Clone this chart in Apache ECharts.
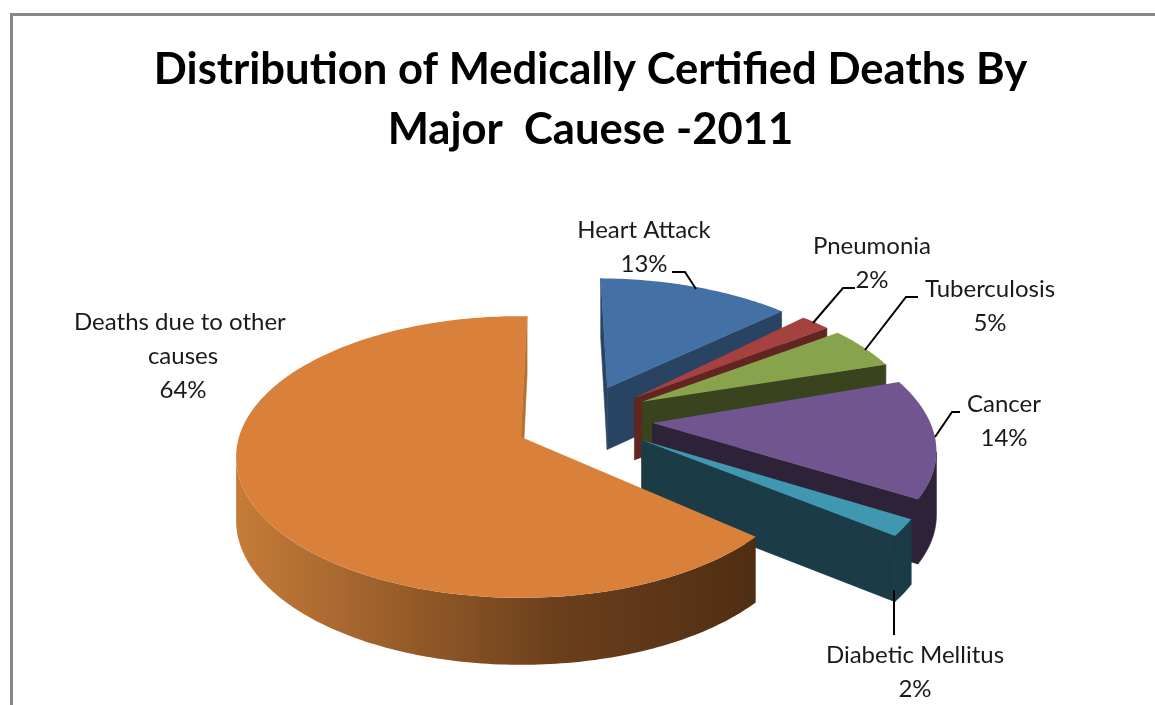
<!DOCTYPE html>
<html>
<head>
<meta charset="utf-8">
<style>html,body{margin:0;padding:0;background:#fff}#chart{width:1155px;height:705px}</style>
<script src="https://cdn.jsdelivr.net/npm/echarts@6/dist/echarts.min.js"></script>
</head>
<body>
<div id="chart"></div>
<script>
// Data
var categories = ['Heart Attack', 'Pneumonia', 'Tuberculosis', 'Cancer', 'Diabetic Mellitus', 'Deaths due to other causes'];
var percentValues = [13, 2, 5, 14, 2, 64];
var titleText = 'Distribution of Medically Certified Deaths By\nMajor  Cauese -2011';

// Styling
var topColors = ['#4471A5', '#A5423F', '#87A44D', '#705590', '#4097B0', '#D9813B'];
var wallColors = ['#294463', '#622522', '#39431D', '#2D2238', '#1B3B47', '#B4702F'];
var FONT = 'Lato, "Open Sans", sans-serif';

// Layout: projection of the tilted disc, explosion of each slice, label anchors
var cx = 521, cy = 437, rx = 282, ry = 138, persp = 0.142, rotateDeg = 1.4;
var explodeU = [0.322, 0.419, 0.445, 0.473, 0.426, 0];
var explodeV = [-0.374, -0.294, -0.265, -0.103, 0.022, 0];
var sliceTurn = [-0.5, -2, -1, -2, -2, 0];
var labelPos = [[644, 247], [872, 263], [990, 306], [1004, 421], [915, 672], [183, 356]];
var labelWidth = [200, 200, 200, 200, 240, 230];
var leaders = [
  [[672, 272], [685, 272], [696, 289]],
  [[855, 288], [843, 288], [813, 323]],
  [[918, 297], [906, 297], [865, 350]],
  [[960, 412], [952, 412], [935, 437]],
  [[894, 590], [894, 635]],
  null
];

function project(u, v) {
  var s = 1 / (1 - persp * v);
  return [cx + rx * u * s, cy + ry * v * s];
}
function depthAt(v) { return 63 + 4 * Math.max(-1, Math.min(1, v)); }

var total = percentValues.reduce(function (a, b) { return a + b; }, 0);

function renderSlice(params, api) {
  var i = params.dataIndex;
  var value = api.value(0);
  var before = 0;
  for (var j = 0; j < i; j++) before += percentValues[j];
  var a0 = before / total * 360 + rotateDeg + sliceTurn[i];
  var a1 = (before + value) / total * 360 + rotateDeg + sliceTurn[i];
  var eu = explodeU[i], ev = explodeV[i];

  // clockwise outline in disc coordinates: apex, arc, back to apex
  var disc = [[eu, ev]];
  var steps = Math.max(2, Math.ceil(a1 - a0));
  for (var k = 0; k <= steps; k++) {
    var t = (a0 + (a1 - a0) * k / steps) * Math.PI / 180;
    disc.push([eu + Math.sin(t), ev - Math.cos(t)]);
  }
  disc.push([eu, ev]);
  var top = disc.map(function (d) { return project(d[0], d[1]); });

  var children = [];
  var n = disc.length;
  // walls: runs of boundary moving right-to-left face the viewer
  var runs = [], cur = null;
  for (var s = 0; s < n - 1; s++) {
    var front = top[s + 1][0] < top[s][0];
    var isEnd = s === n - 2;
    if (front) {
      if (!cur) { cur = { from: s, radial: isEnd }; runs.push(cur); }
      cur.to = s + 1;
    } else { cur = null; }
    if (isEnd && front && cur && cur.from !== s) {
      // split the closing radial edge from the arc so each has its own fill
      cur.to = s;
      runs.push({ from: s, to: s + 1, radial: true });
    }
  }
  runs.sort(function (a, b) { return (b.radial ? 1 : 0) - (a.radial ? 1 : 0); });
  runs.forEach(function (r) {
    var pts = [];
    for (var q = r.from; q <= r.to; q++) pts.push(top[q]);
    for (var w = r.to; w >= r.from; w--) pts.push([top[w][0], top[w][1] + depthAt(disc[w][1])]);
    var fill = wallColors[i];
    var gradient = i === 5 && !r.radial;
    if (gradient) {
      fill = {
        type: 'linear', x: 235, y: 0, x2: 755, y2: 0, global: true,
        colorStops: [
          { offset: 0, color: '#C67C38' },
          { offset: 0.62, color: '#6B3F1C' },
          { offset: 1, color: '#502E13' }
        ]
      };
    }
    children.push({
      type: 'polygon', shape: { points: pts },
      style: { fill: fill, stroke: gradient ? null : fill, lineWidth: gradient ? 0 : 0.6 }
    });
  });

  children.push({ type: 'polygon', shape: { points: top.slice(0, n - 1) }, style: { fill: topColors[i], stroke: null } });

  if (leaders[i]) {
    children.push({
      type: 'polyline', shape: { points: leaders[i] },
      style: { fill: null, stroke: '#000', lineWidth: 2 }
    });
  }
  children.push({
    type: 'text', x: labelPos[i][0], y: labelPos[i][1],
    style: {
      text: categories[i] + '\n' + value + '%',
      width: labelWidth[i], overflow: 'break',
      fill: '#1a1a1a', font: '400 24px ' + FONT, fontFamily: FONT, fontSize: 24,
      lineHeight: 34, align: 'center', verticalAlign: 'middle'
    }
  });
  return { type: 'group', children: children };
}

var chart = echarts.init(document.getElementById('chart'), null, { renderer: 'canvas' });
chart.setOption({
  animation: false,
  backgroundColor: '#ffffff',
  title: {
    text: titleText,
    left: 585.5, top: 35, textAlign: 'center',
    textStyle: { fontFamily: FONT, fontWeight: 'bold', fontSize: 43.6, lineHeight: 60, color: '#000' }
  },
  graphic: [{
    type: 'polyline', silent: true,
    shape: { points: [[11.5, 720], [11.5, 14.5], [1170, 14.5]] },
    style: { fill: null, stroke: '#888888', lineWidth: 3 }
  }],
  series: [{
    type: 'custom',
    coordinateSystem: 'none',
    silent: true,
    renderItem: renderSlice,
    data: percentValues.map(function (v, i) { return { name: categories[i], value: [v] }; })
  }]
});
</script>
</body>
</html>
